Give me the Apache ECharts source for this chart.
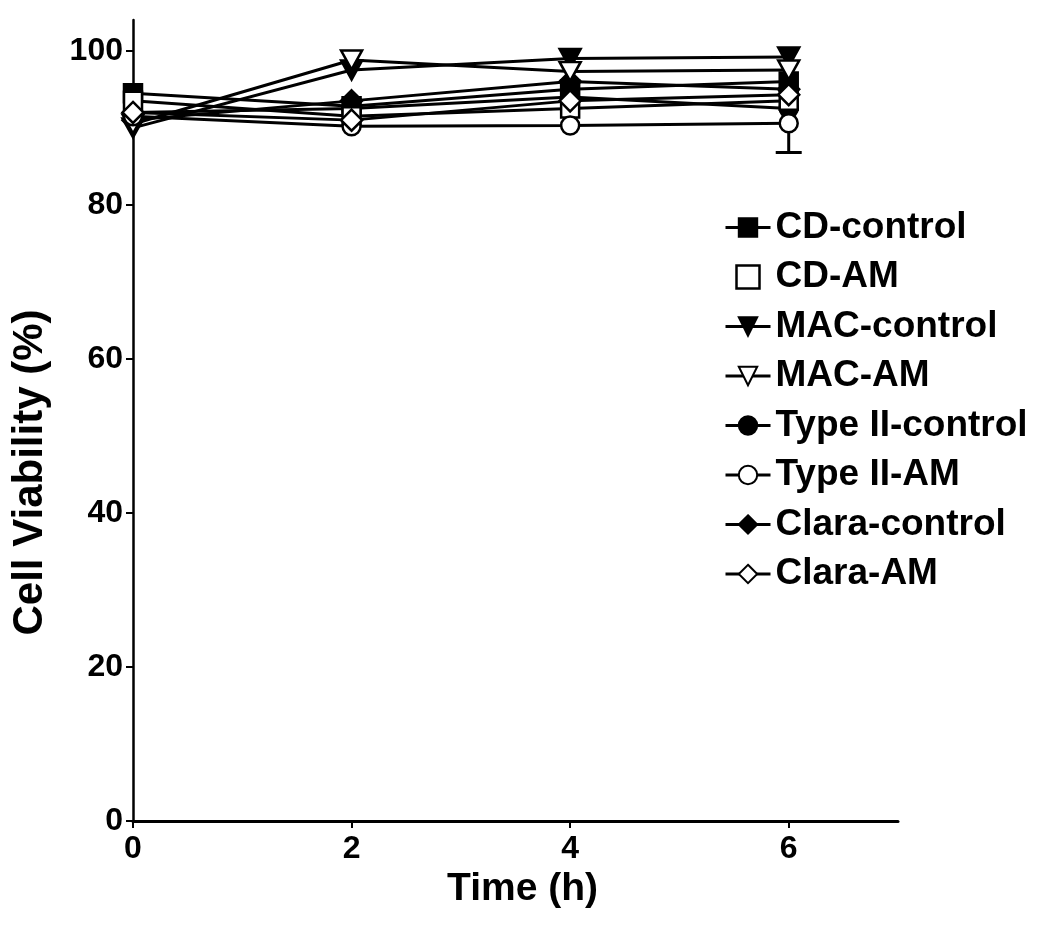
<!DOCTYPE html>
<html>
<head>
<meta charset="utf-8">
<script src="https://cdn.jsdelivr.net/npm/echarts@6/dist/echarts.min.js"></script>
<style>
html,body{margin:0;padding:0;background:#fff;}
#chart{width:1051px;height:937px;}
</style>
</head>
<body>
<div id="chart"></div>
<script>
var timePoints = [0, 2, 4, 6];
var xTickValues = [0, 2, 4, 6];
var yTickValues = [0, 20, 40, 60, 80, 100];

var seriesNames = ['CD-control', 'CD-AM', 'MAC-control', 'MAC-AM', 'Type II-control', 'Type II-AM', 'Clara-control', 'Clara-AM'];
var cdControl = [94.5, 92.8, 95.0, 96.0];
var cdAM = [93.5, 91.5, 92.5, 93.5];
var macControl = [90.0, 97.5, 99.0, 99.2];
var macAM = [90.5, 98.8, 97.3, 97.5];
var typeIIControl = [92.0, 92.5, 94.0, 92.5];
var typeIIAM = [91.5, 90.2, 90.3, 90.6];
var claraControl = [91.0, 93.5, 96.0, 95.0];
var claraAM = [92.0, 91.0, 93.5, 94.3];
var typeIIAMErrLow = [0, 0, 0, 3.8];

var seriesValues = [cdControl, cdAM, macControl, macAM, typeIIControl, typeIIAM, claraControl, claraAM];
var seriesSymbols = ['rect', 'rect', 'triangle', 'triangle', 'circle', 'circle', 'diamond', 'diamond'];
var seriesFilled = [true, false, true, false, true, false, true, false];
var seriesRotate = [0, 0, 180, 180, 0, 0, 0, 0];

var FONT = "'Liberation Sans', Arial, sans-serif";

var chart = echarts.init(document.getElementById('chart'), null, {renderer: 'canvas'});

var series = seriesNames.map(function (name, i) {
  return {
    name: name,
    type: 'line',
    data: timePoints.map(function (t, j) { return [t, seriesValues[i][j]]; }),
    symbol: seriesSymbols[i],
    symbolRotate: seriesRotate[i],
    symbolSize: seriesSymbols[i] === 'diamond' ? 21 : (seriesSymbols[i] === 'triangle' ? [21, 19] : 18),
    showAllSymbol: true,
    lineStyle: {color: '#000', width: 3},
    itemStyle: {
      color: seriesFilled[i] ? '#000' : '#fff',
      borderColor: '#000',
      borderWidth: 2.5
    },
    z: seriesFilled[i] ? 3 : 4,
    animation: false
  };
});

series.push({
  name: 'err',
  type: 'custom',
  data: timePoints.map(function (t, j) { return [t, typeIIAM[j], typeIIAM[j] - typeIIAMErrLow[j]]; }),
  renderItem: function (params, api) {
    var x = api.value(0), v = api.value(1), lo = api.value(2);
    if (v === lo) return null;
    var p1 = api.coord([x, v]);
    var p2 = api.coord([x, lo]);
    var hw = 13;
    return {
      type: 'group',
      children: [
        {type: 'line', shape: {x1: p1[0], y1: p1[1], x2: p2[0], y2: p2[1]}, style: {stroke: '#000', lineWidth: 3}},
        {type: 'line', shape: {x1: p2[0] - hw, y1: p2[1], x2: p2[0] + hw, y2: p2[1]}, style: {stroke: '#000', lineWidth: 3}}
      ]
    };
  },
  z: 2,
  silent: true,
  animation: false
});

var legendData = seriesNames.map(function (n, i) {
  if (n === 'CD-AM') {
    return {name: n, icon: 'path://M0,0 L10,0 L10,10 L0,10 Z',
      itemStyle: {color: '#fff', borderColor: '#000', borderWidth: 2.5}};
  }
  return {name: n};
});

chart.setOption({
  backgroundColor: '#fff',
  animation: false,
  grid: {left: 133, right: 153, top: 20, bottom: 116, containLabel: false},
  legend: {
    data: legendData,
    orient: 'vertical',
    left: 719,
    top: 204,
    itemWidth: 45,
    itemHeight: 23,
    itemGap: 12.5,
    selectedMode: false,
    lineStyle: {width: 3},
    textStyle: {fontFamily: FONT, fontSize: 37, fontWeight: 'bold', color: '#000', lineHeight: 35}
  },
  xAxis: {
    type: 'value',
    min: 0, max: 7, interval: 1,
    name: 'Time (h)',
    nameLocation: 'middle',
    nameGap: 49,
    nameTextStyle: {fontFamily: FONT, fontSize: 39, fontWeight: 'bold', color: '#000', padding: [0, 0, 0, 14]},
    axisLine: {lineStyle: {color: '#000', width: 3}},
    axisTick: {show: true, length: 7, lineStyle: {color: '#000', width: 2}, customValues: xTickValues},
    axisLabel: {fontFamily: FONT, fontSize: 32, fontWeight: 'bold', color: '#000', margin: 12, customValues: xTickValues},
    splitLine: {show: false}
  },
  yAxis: {
    type: 'value',
    min: 0, max: 104, interval: 20,
    name: 'Cell Viability (%)',
    nameLocation: 'middle',
    nameGap: 82,
    nameRotate: 90,
    nameTextStyle: {fontFamily: FONT, fontSize: 42, fontWeight: 'bold', color: '#000', padding: [0, 104, 0, 0]},
    axisLine: {lineStyle: {color: '#000', width: 2.5}},
    axisTick: {show: true, length: 7, lineStyle: {color: '#000', width: 2}, customValues: yTickValues},
    axisLabel: {fontFamily: FONT, fontSize: 32, fontWeight: 'bold', color: '#000', margin: 10, customValues: yTickValues},
    splitLine: {show: false}
  },
  series: series
});
</script>
</body>
</html>
